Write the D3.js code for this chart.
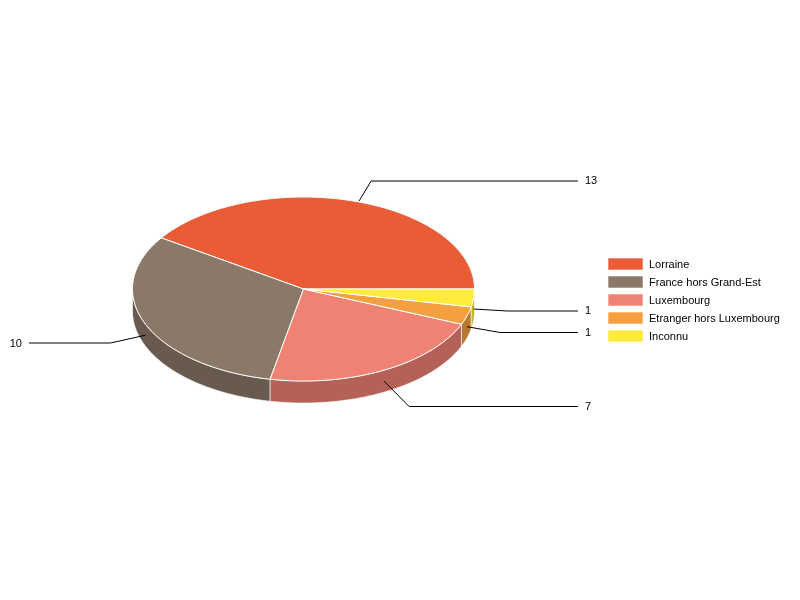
<!DOCTYPE html>
<html>
<head>
<meta charset="utf-8">
<script src="https://cdn.jsdelivr.net/npm/d3@7"></script>
<style>
  html, body { margin: 0; padding: 0; background: #fff; }
  svg { display: block; will-change: opacity; }
  text { font-family: "Liberation Sans", Arial, sans-serif; font-size: 11px; fill: #000; }
</style>
</head>
<body>
<svg width="800" height="600"></svg>
<script>
const categories = ['Lorraine', 'France hors Grand-Est', 'Luxembourg', 'Etranger hors Luxembourg', 'Inconnu'];
const values = [13, 10, 7, 1, 1];
const colors = ['#ea5c36', '#8a7868', '#f08274', '#f4a040', '#ffeb3b'];

const cx = 303.5, cy = 289, rx = 171, ry = 92, depth = 22;
// leader lines: shift of the start, then the step out to the elbow
const leaderShift = [6, 0, 0, 0, 0];
const leaderDx = [12, -35, 25, 33, 34];
const leaderDy = [-20, 8, 25.4, 5.8, 2];

const svg = d3.select('svg');

const slices = d3.pie().sort(null)
  .startAngle(Math.PI / 2)
  .endAngle(Math.PI / 2 - 2 * Math.PI)(values);

const px = a => cx + rx * Math.sin(a);
const py = a => cy - ry * Math.cos(a);
const line = d3.line();

// angles from a to b, sampled along the rim
const rim = function(a, b) {
  const n = Math.max(2, Math.ceil(Math.abs(b - a) * 60));
  return d3.range(n + 1).map(i => a + (b - a) * i / n);
};

const sides = slices.map(d => {
  const lo = Math.max(d.endAngle, -3 * Math.PI / 2);
  const hi = Math.min(d.startAngle, -Math.PI / 2);
  return lo < hi ? { i: d.index, lo, hi } : null;
}).filter(d => d);

svg.append('g').selectAll('path')
  .data(sides)
  .enter()
  .append('path')
  .attr('d', d => {
    const angles = rim(d.hi, d.lo);
    const top = angles.map(a => [px(a), py(a)]);
    const bottom = angles.slice().reverse().map(a => [px(a), py(a) + depth]);
    return line(top.concat(bottom)) + 'Z';
  })
  .attr('fill', d => d3.rgb(colors[d.i]).darker(0.8))
  .attr('stroke', '#fff')
  .attr('stroke-opacity', 0.6)
  .attr('stroke-width', 1);

svg.append('g').selectAll('path')
  .data(slices)
  .enter()
  .append('path')
  .attr('d', d => {
    const pts = rim(d.startAngle, d.endAngle).map(a => [px(a), py(a)]);
    return line([[cx, cy]].concat(pts)) + 'Z';
  })
  .attr('fill', (d, i) => colors[i])
  .attr('stroke', '#fff')
  .attr('stroke-width', 1)
  .attr('stroke-linejoin', 'round');

// leader lines and value labels
const leaders = slices.map((d, i) => {
  const mid = (d.startAngle + d.endAngle) / 2;
  const drop = Math.cos(mid) < 0 ? depth / 2 : 0;
  const start = [px(mid) + leaderShift[i], py(mid) + drop];
  const rawY = start[1] + leaderDy[i];
  const elbow = [start[0] + leaderDx[i], Math.round(rawY * 2) / 2];
  return { value: d.value, start, elbow, rawY, right: leaderDx[i] > 0 };
});

svg.append('g').selectAll('path')
  .data(leaders)
  .enter()
  .append('path')
  .attr('d', d => line([d.start, d.elbow, [d.right ? 578 : 29, d.elbow[1]]]))
  .attr('fill', 'none')
  .attr('stroke', '#000')
  .attr('stroke-width', 1);

svg.append('g').selectAll('text')
  .data(leaders)
  .enter()
  .append('text')
  .attr('x', d => d.right ? 585 : 22)
  .attr('y', d => Math.round(d.rawY + 3.35))
  .attr('text-anchor', d => d.right ? 'start' : 'end')
  .text(d => d.value);

// legend
const legendY = d3.scalePoint().domain(categories).range([264, 336]);
const legend = svg.append('g').selectAll('g')
  .data(categories)
  .enter()
  .append('g')
  .attr('transform', d => `translate(608,${legendY(d)})`);

legend.append('rect')
  .attr('y', -6)
  .attr('width', 35)
  .attr('height', 12)
  .attr('fill', (d, i) => colors[i])
  .attr('stroke', '#fff')
  .attr('stroke-opacity', 0.6);

legend.append('text')
  .attr('x', 41)
  .attr('y', 4)
  .text(d => d);
</script>
</body>
</html>
